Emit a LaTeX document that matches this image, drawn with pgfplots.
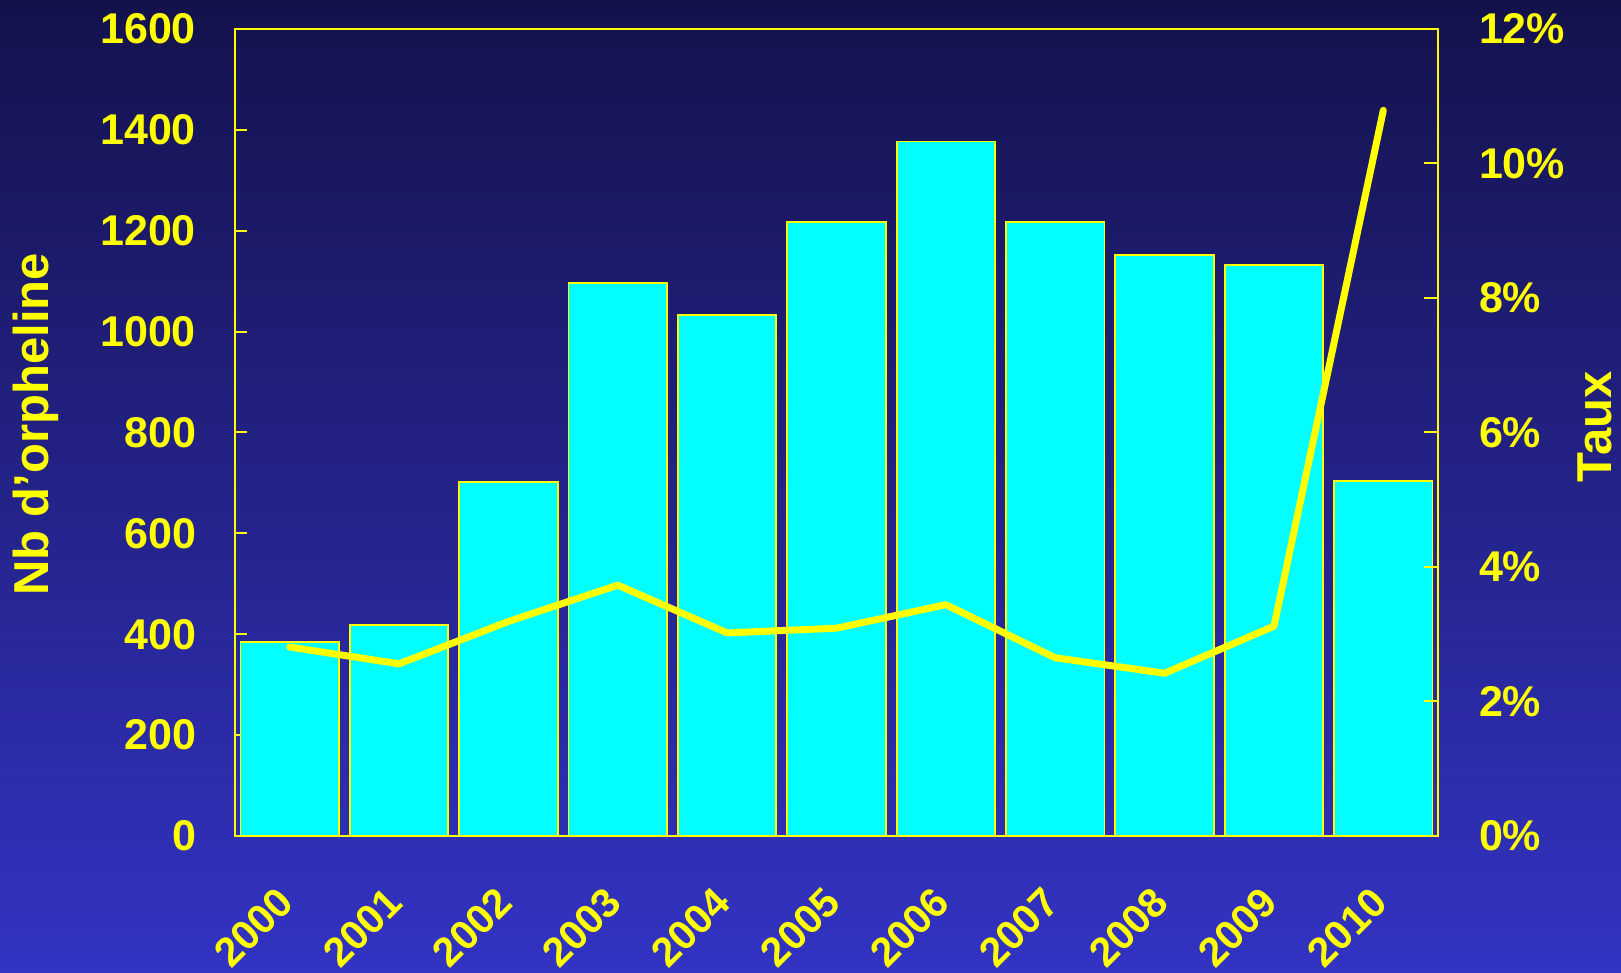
\documentclass[border=0pt]{standalone}
\usepackage{pgfplots}
\pgfplotsset{compat=1.18}
\usepackage{fontspec}
\setmainfont{Liberation Sans}
\definecolor{ylw}{RGB}{255,255,0}
\definecolor{cyn}{RGB}{0,255,255}
\definecolor{bgtop}{RGB}{20,18,75}
\definecolor{bgmid}{RGB}{31,29,120}
\definecolor{bgbot}{RGB}{51,51,196}
\begin{document}
\begin{tikzpicture}
\useasboundingbox (0,0) rectangle (810.5pt,486.5pt);
\shade[top color=bgtop, middle color=bgmid, bottom color=bgbot] (0,0) rectangle (810.5pt,486.5pt);
\begin{axis}[
  at={(117.5pt,68.5pt)}, anchor=south west, scale only axis,
  width=601.5pt, height=403.5pt,
  xmin=-0.5, xmax=10.5, ymin=0, ymax=1600,
  ytick={0,200,400,600,800,1000,1200,1400,1600},
  yticklabels={0,200,400,600,800,1000,1200,1400,1600},
  xtick={0,1,2,3,4,5,6,7,8,9,10},
  xticklabels={2000,2001,2002,2003,2004,2005,2006,2007,2008,2009,2010},
  xtick style={draw=none},
  ytick pos=left,
  tick align=inside,
  major tick length=6pt,
  axis line style={ylw, line width=1pt},
  ytick style={ylw, line width=1pt},
  tick label style={ylw, font=\bfseries\fontsize{21.5}{24}\selectfont},
  yticklabel style={anchor=east, xshift=-16pt},
  xticklabel style={xshift=0.5pt, rotate=45, anchor=east, font=\bfseries\fontsize{20.5}{24}\selectfont},
  xticklabel shift=27pt,
  ylabel={Nb d'orpheline},
  ylabel style={ylw, font=\bfseries\fontsize{24.5}{28}\selectfont, at={(axis description cs:0,0.51)}, anchor=center, yshift=99.5pt},
]
\addplot[ybar, bar width=0.9, fill=cyn, draw=ylw, line width=0.9pt] coordinates {
(0,385) (1,418) (2,702) (3,1097) (4,1033) (5,1218) (6,1377) (7,1218) (8,1152) (9,1132) (10,704)
};
\end{axis}
\begin{axis}[
  at={(117.5pt,68.5pt)}, anchor=south west, scale only axis,
  width=601.5pt, height=403.5pt,
  xmin=-0.5, xmax=10.5, ymin=0, ymax=12,
  axis x line=none, axis y line*=right,
  ytick={0,2,4,6,8,10,12},
  yticklabels={0\%,2\%,4\%,6\%,8\%,10\%,12\%},
  tick align=inside,
  major tick length=7pt,
  axis line style={ylw, line width=1pt},
  ytick style={ylw, line width=1pt},
  tick label style={ylw, font=\bfseries\fontsize{21.5}{24}\selectfont},
  yticklabel style={anchor=west, xshift=17pt},
  ylabel={Taux},
  ylabel style={ylw, font=\bfseries\fontsize{24.5}{28}\selectfont, at={(axis description cs:1,0.507)}, anchor=center, yshift=-78.5pt},
]
\addplot[ylw, line width=3.5pt, line cap=round, line join=round] coordinates {
(0,2.81) (1,2.56) (2,3.19) (3,3.73) (4,3.02) (5,3.09) (6,3.44) (7,2.65) (8,2.42) (9,3.12) (10,10.79)
};
\end{axis}
\end{tikzpicture}
\end{document}
